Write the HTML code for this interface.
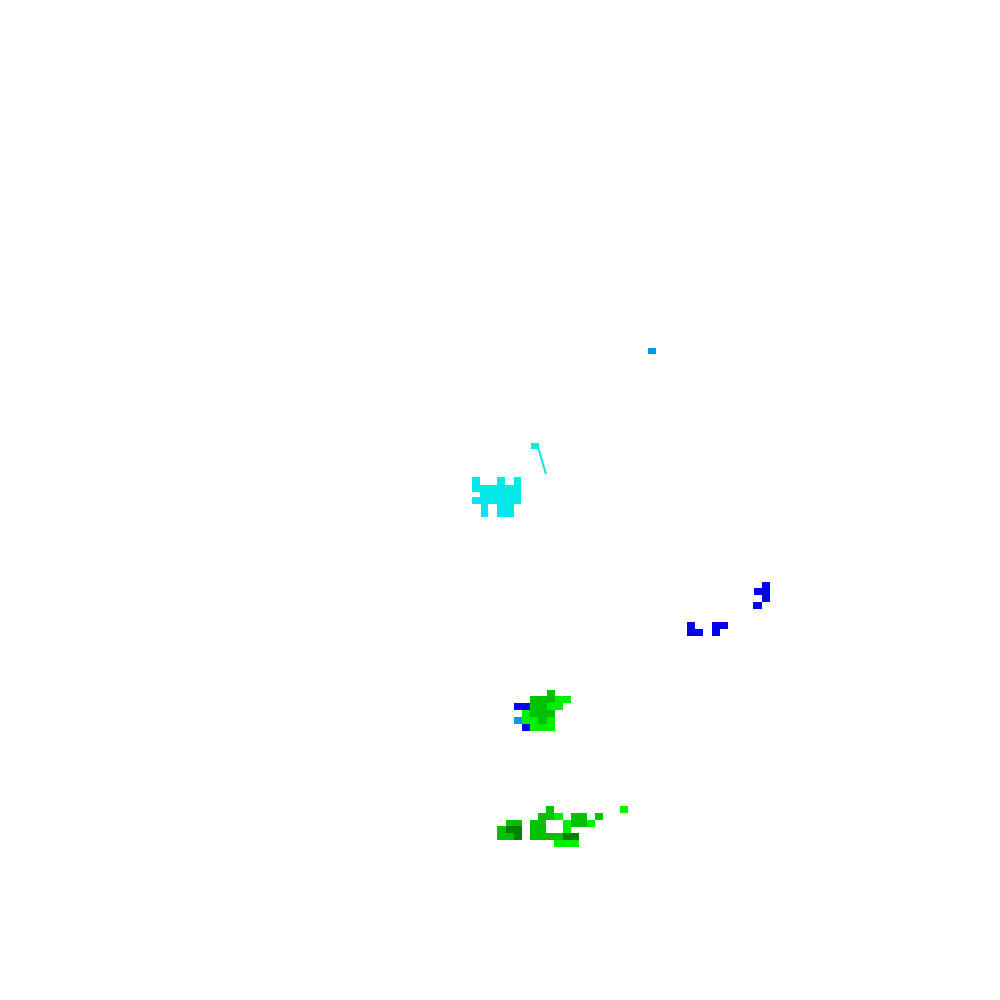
<!DOCTYPE html>
<html><head><style>
body{margin:0;width:1000px;height:1000px;background:#fff;position:relative;overflow:hidden}
div{position:absolute}
.c{background:#00e8e8}.g{background:#00c000}.b{background:#00ee00}.d{background:#008000}.u{background:#0000ee}.l{background:#0099ee}
</style></head><body>
<div class="l" style="left:648px;top:348px;width:8px;height:6px"></div>
<div class="c" style="left:531px;top:443px;width:8px;height:6px"></div>
<svg style="position:absolute;left:0;top:0" width="1000" height="1000"><line x1="538" y1="447" x2="546" y2="474" stroke="#00e8e8" stroke-width="2"/></svg>
<div class="c" style="left:472px;top:477px;width:8px;height:15px"></div>
<div class="c" style="left:497px;top:477px;width:8px;height:8px"></div>
<div class="c" style="left:514px;top:477px;width:7px;height:8px"></div>
<div class="c" style="left:480px;top:485px;width:41px;height:15px"></div>
<div class="c" style="left:472px;top:497px;width:49px;height:7px"></div>
<div class="c" style="left:481px;top:504px;width:7px;height:13px"></div>
<div class="c" style="left:497px;top:504px;width:17px;height:13px"></div>

<div class="u" style="left:762px;top:582px;width:8px;height:20px"></div>
<div class="u" style="left:754px;top:588px;width:8px;height:7px"></div>
<div class="u" style="left:753px;top:602px;width:9px;height:7px"></div>
<div class="u" style="left:687px;top:622px;width:8px;height:14px"></div>
<div class="u" style="left:695px;top:629px;width:8px;height:7px"></div>
<div class="u" style="left:712px;top:622px;width:8px;height:14px"></div>
<div class="u" style="left:720px;top:622px;width:8px;height:7px"></div>

<div class="g" style="left:530px;top:696px;width:25px;height:7px"></div>
<div class="g" style="left:547px;top:690px;width:8px;height:6px"></div>
<div class="g" style="left:530px;top:703px;width:17px;height:14px"></div>
<div class="g" style="left:547px;top:710px;width:8px;height:7px"></div>
<div class="g" style="left:538px;top:717px;width:9px;height:7px"></div>
<div class="b" style="left:555px;top:696px;width:16px;height:7px"></div>
<div class="b" style="left:547px;top:703px;width:16px;height:7px"></div>
<div class="b" style="left:522px;top:710px;width:8px;height:21px"></div>
<div class="b" style="left:530px;top:717px;width:8px;height:7px"></div>
<div class="b" style="left:547px;top:717px;width:8px;height:7px"></div>
<div class="b" style="left:530px;top:724px;width:25px;height:7px"></div>
<div class="u" style="left:514px;top:703px;width:16px;height:7px"></div>
<div class="u" style="left:522px;top:724px;width:8px;height:7px"></div>
<div class="l" style="left:514px;top:717px;width:8px;height:7px"></div>

<div class="g" style="left:546px;top:806px;width:8px;height:7px"></div>
<div class="g" style="left:538px;top:813px;width:16px;height:7px"></div>
<div class="g" style="left:506px;top:820px;width:16px;height:6px"></div>
<div class="g" style="left:497px;top:826px;width:9px;height:14px"></div>
<div class="g" style="left:506px;top:833px;width:8px;height:7px"></div>
<div class="g" style="left:530px;top:820px;width:16px;height:20px"></div>
<div class="g" style="left:546px;top:833px;width:17px;height:7px"></div>
<div class="g" style="left:571px;top:813px;width:16px;height:14px"></div>
<div class="g" style="left:595px;top:813px;width:8px;height:7px"></div>
<div class="d" style="left:506px;top:826px;width:16px;height:7px"></div>
<div class="d" style="left:514px;top:833px;width:8px;height:7px"></div>
<div class="d" style="left:563px;top:833px;width:16px;height:7px"></div>
<div class="b" style="left:554px;top:813px;width:9px;height:7px"></div>
<div class="b" style="left:563px;top:820px;width:8px;height:13px"></div>
<div class="b" style="left:587px;top:820px;width:8px;height:7px"></div>
<div class="b" style="left:554px;top:840px;width:25px;height:7px"></div>
<div class="b" style="left:620px;top:806px;width:8px;height:7px"></div>
</body></html>
